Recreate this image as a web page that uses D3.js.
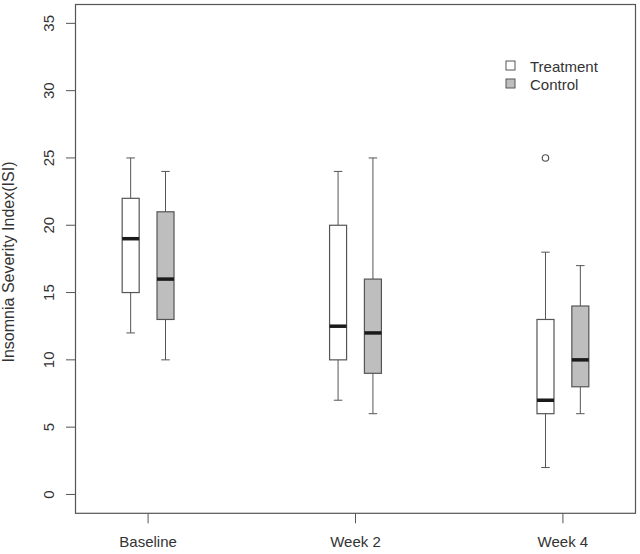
<!DOCTYPE html>
<html><head><meta charset="utf-8">
<script src="https://cdn.jsdelivr.net/npm/d3@7"></script>
<style>body{margin:0;background:#fff}svg{display:block;font-family:"Liberation Sans",Arial,sans-serif}</style>
</head><body><svg id="c" width="640" height="554"></svg>
<script>
const categories = ["Baseline", "Week 2", "Week 4"];
const groups = ["Treatment", "Control"];
const yTicks = [0, 5, 10, 15, 20, 25, 30, 35];
// per category: [Treatment, Control]
const whiskerLow = [[12, 10], [7, 6], [2, 6]];
const q1 = [[15, 13], [10, 9], [6, 8]];
const median = [[19, 16], [12.5, 12], [7, 10]];
const q3 = [[22, 21], [20, 16], [13, 14]];
const whiskerHigh = [[25, 24], [24, 25], [18, 17]];
const outliers = [[[], []], [[], []], [[25], []]];
const fills = ["#ffffff", "#bebebe"];

const svg = d3.select("#c");
const L = 75.5, R = 635.5, T = 4.5, B = 513.3;
const x = d3.scaleLinear().domain([0.65, 3.35]).range([L, R]);
const y = d3.scaleLinear().domain([-1.4, 36.4]).range([B, T]);
const off = [-0.084, 0.084], bw = 0.082;
const ink = "#555", txt = "#333";

// frame
svg.append("rect").attr("x", L).attr("y", T).attr("width", R - L).attr("height", B - T)
  .attr("fill", "none").attr("stroke", ink).attr("stroke-width", 1.2);

// y axis
const ya = svg.append("g");
ya.selectAll("line").data(yTicks).join("line")
  .attr("x1", L - 9.5).attr("x2", L).attr("y1", d => y(d)).attr("y2", d => y(d))
  .attr("stroke", ink);
ya.selectAll("text").data(yTicks).join("text")
  .attr("transform", d => `translate(54,${y(d)}) rotate(-90)`)
  .attr("text-anchor", "middle").attr("font-size", 15).attr("fill", txt)
  .text(d => d);

// x axis
const xa = svg.append("g");
xa.selectAll("line").data(categories).join("line")
  .attr("x1", (d, i) => x(i + 1)).attr("x2", (d, i) => x(i + 1))
  .attr("y1", B).attr("y2", B + 10).attr("stroke", ink);
xa.selectAll("text").data(categories).join("text")
  .attr("x", (d, i) => x(i + 1)).attr("y", 547).attr("text-anchor", "middle")
  .attr("font-size", 15).attr("fill", txt).text(d => d);

// y title
svg.append("text").attr("transform", `translate(14,262) rotate(-90)`)
  .attr("text-anchor", "middle").attr("font-size", 16).attr("fill", txt)
  .text("Insomnia Severity Index(ISI)");

// boxes
categories.forEach((c, i) => {
  groups.forEach((g, j) => {
    const cx = i + 1 + off[j];
    const x0 = x(cx - bw / 2), x1 = x(cx + bw / 2), xc = x(cx);
    const s0 = x(cx - bw / 4), s1 = x(cx + bw / 4);
    const gg = svg.append("g");
    gg.append("line").attr("x1", xc).attr("x2", xc).attr("y1", y(whiskerHigh[i][j])).attr("y2", y(q3[i][j])).attr("stroke", ink);
    gg.append("line").attr("x1", xc).attr("x2", xc).attr("y1", y(whiskerLow[i][j])).attr("y2", y(q1[i][j])).attr("stroke", ink);
    gg.append("line").attr("x1", s0).attr("x2", s1).attr("y1", y(whiskerHigh[i][j])).attr("y2", y(whiskerHigh[i][j])).attr("stroke", ink);
    gg.append("line").attr("x1", s0).attr("x2", s1).attr("y1", y(whiskerLow[i][j])).attr("y2", y(whiskerLow[i][j])).attr("stroke", ink);
    gg.append("rect").attr("x", x0).attr("y", y(q3[i][j])).attr("width", x1 - x0)
      .attr("height", y(q1[i][j]) - y(q3[i][j])).attr("fill", fills[j]).attr("stroke", ink).attr("stroke-width", 1.2);
    gg.append("line").attr("x1", x0).attr("x2", x1).attr("y1", y(median[i][j])).attr("y2", y(median[i][j]))
      .attr("stroke", "#1a1a1a").attr("stroke-width", 3.5);
    gg.selectAll("circle").data(outliers[i][j]).join("circle")
      .attr("cx", xc).attr("cy", d => y(d)).attr("r", 3.2).attr("fill", "none").attr("stroke", ink).attr("stroke-width", 1.2);
  });
});

// legend
const lg = svg.append("g");
groups.forEach((g, j) => {
  const ly = 66 + j * 18;
  lg.append("rect").attr("x", 506).attr("y", ly - 5).attr("width", 9).attr("height", 9)
    .attr("fill", fills[j]).attr("stroke", ink);
  lg.append("text").attr("x", 530).attr("y", ly + 5.5).attr("font-size", 15).attr("fill", txt).text(g);
});
</script></body></html>
